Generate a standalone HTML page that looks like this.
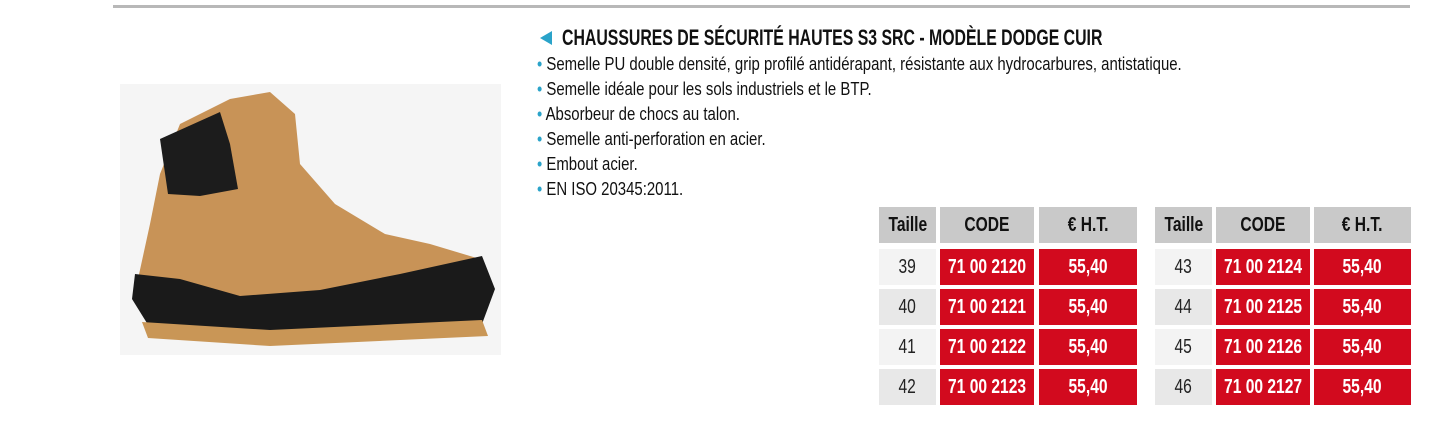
<!DOCTYPE html>
<html><head><style>
body{margin:0;width:1434px;height:422px;background:#fff;position:relative;overflow:hidden;font-family:"Liberation Sans",sans-serif}
.a{position:absolute;white-space:nowrap}
.sq{transform:scaleX(0.83);transform-origin:left center}
.t{font-weight:bold;font-size:22px;color:#111;transform:scaleX(0.72);transform-origin:left center}
.b{font-size:18px;color:#111}
.b i{color:#2aa3c9;font-style:normal}
.c{position:absolute;display:flex;align-items:center;justify-content:center;font-size:20px;white-space:nowrap}
.c span{display:inline-block;transform:scaleX(0.78);white-space:nowrap}
.h{background:#c9c9c9;color:#111;font-weight:bold}
.r{background:#d20a1e;color:#fff;font-weight:bold}
.g{color:#222}
</style></head><body>
<div class="a" style="left:113px;top:5px;width:1297px;height:3px;background:#b8b8b8"></div>
<div class="a" style="left:120px;top:84px;width:381px;height:271px;background:#f5f5f5"></div>
<svg class="a" style="left:120px;top:84px" width="381" height="271" viewBox="0 0 381 271">
<path d="M40 90 L60 40 L110 15 L150 8 L175 30 L180 80 L215 120 L265 150 L310 160 L360 175 L372 205 L365 225 L150 235 L25 228 L18 195 L30 140 Z" fill="#c89357"/>
<path d="M40 55 L100 28 L110 60 L118 105 L80 112 L48 110 Z" fill="#1c1c1c"/>
<path d="M15 190 L60 195 L120 212 L200 206 L280 190 L362 172 L375 205 L362 240 L150 250 L30 244 L12 215 Z" fill="#1a1a1a"/>
<path d="M22 238 L150 246 L362 236 L368 252 L150 262 L28 254 Z" fill="#c99656"/>
</svg>
<div class="a" style="left:540px;top:31px;width:0;height:0;border-top:7px solid transparent;border-bottom:7px solid transparent;border-right:12px solid #2aa3c9"></div>
<div class="a t" style="left:562px;top:25px">CHAUSSURES DE SÉCURITÉ HAUTES S3 SRC - MODÈLE DODGE CUIR</div>
<div class="a b sq" style="left:537px;top:54px"><i>•</i> Semelle PU double densité, grip profilé antidérapant, résistante aux hydrocarbures, antistatique.</div>
<div class="a b sq" style="left:537px;top:79px"><i>•</i> Semelle idéale pour les sols industriels et le BTP.</div>
<div class="a b sq" style="left:537px;top:104px"><i>•</i> Absorbeur de chocs au talon.</div>
<div class="a b sq" style="left:537px;top:129px"><i>•</i> Semelle anti-perforation en acier.</div>
<div class="a b sq" style="left:537px;top:154px"><i>•</i> Embout acier.</div>
<div class="a b sq" style="left:537px;top:179px"><i>•</i> EN ISO 20345:2011.</div>

<div class="c h" style="left:879px;top:207px;width:57px;height:36px"><span>Taille</span></div>
<div class="c h" style="left:940px;top:207px;width:94px;height:36px"><span>CODE</span></div>
<div class="c h" style="left:1039px;top:207px;width:98px;height:36px"><span>€ H.T.</span></div>
<div class="c h" style="left:1155px;top:207px;width:57px;height:36px"><span>Taille</span></div>
<div class="c h" style="left:1216px;top:207px;width:94px;height:36px"><span>CODE</span></div>
<div class="c h" style="left:1314px;top:207px;width:97px;height:36px"><span>€ H.T.</span></div>

<div class="c g" style="left:879px;top:249px;width:57px;height:36px;background:#f3f3f3"><span>39</span></div>
<div class="c r" style="left:940px;top:249px;width:94px;height:36px"><span>71 00 2120</span></div>
<div class="c r" style="left:1039px;top:249px;width:98px;height:36px"><span>55,40</span></div>
<div class="c g" style="left:879px;top:289px;width:57px;height:36px;background:#e8e8e8"><span>40</span></div>
<div class="c r" style="left:940px;top:289px;width:94px;height:36px"><span>71 00 2121</span></div>
<div class="c r" style="left:1039px;top:289px;width:98px;height:36px"><span>55,40</span></div>
<div class="c g" style="left:879px;top:329px;width:57px;height:36px;background:#f3f3f3"><span>41</span></div>
<div class="c r" style="left:940px;top:329px;width:94px;height:36px"><span>71 00 2122</span></div>
<div class="c r" style="left:1039px;top:329px;width:98px;height:36px"><span>55,40</span></div>
<div class="c g" style="left:879px;top:369px;width:57px;height:36px;background:#e8e8e8"><span>42</span></div>
<div class="c r" style="left:940px;top:369px;width:94px;height:36px"><span>71 00 2123</span></div>
<div class="c r" style="left:1039px;top:369px;width:98px;height:36px"><span>55,40</span></div>

<div class="c g" style="left:1155px;top:249px;width:57px;height:36px;background:#f3f3f3"><span>43</span></div>
<div class="c r" style="left:1216px;top:249px;width:94px;height:36px"><span>71 00 2124</span></div>
<div class="c r" style="left:1314px;top:249px;width:97px;height:36px"><span>55,40</span></div>
<div class="c g" style="left:1155px;top:289px;width:57px;height:36px;background:#e8e8e8"><span>44</span></div>
<div class="c r" style="left:1216px;top:289px;width:94px;height:36px"><span>71 00 2125</span></div>
<div class="c r" style="left:1314px;top:289px;width:97px;height:36px"><span>55,40</span></div>
<div class="c g" style="left:1155px;top:329px;width:57px;height:36px;background:#f3f3f3"><span>45</span></div>
<div class="c r" style="left:1216px;top:329px;width:94px;height:36px"><span>71 00 2126</span></div>
<div class="c r" style="left:1314px;top:329px;width:97px;height:36px"><span>55,40</span></div>
<div class="c g" style="left:1155px;top:369px;width:57px;height:36px;background:#e8e8e8"><span>46</span></div>
<div class="c r" style="left:1216px;top:369px;width:94px;height:36px"><span>71 00 2127</span></div>
<div class="c r" style="left:1314px;top:369px;width:97px;height:36px"><span>55,40</span></div>
</body></html>
